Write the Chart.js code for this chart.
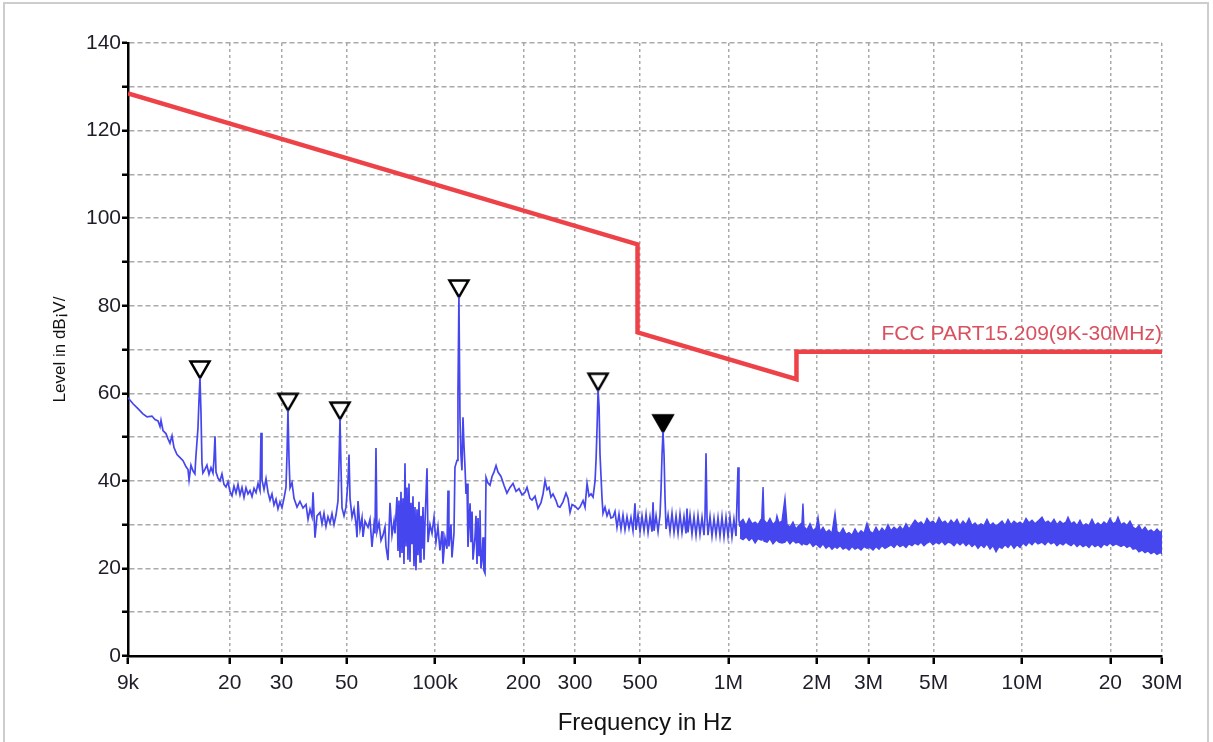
<!DOCTYPE html>
<html>
<head>
<meta charset="utf-8">
<title>FCC PART15.209 scan</title>
<script src="https://cdn.jsdelivr.net/npm/chart.js@4.4.1/dist/chart.umd.min.js"></script>
<style>
  html, body { margin: 0; padding: 0; background: #fff; }
  #wrap { position: relative; width: 1213px; height: 742px; overflow: hidden; }
  #frame { position: absolute; left: 3px; top: 2px; width: 1202px; height: 800px; border: 2px solid #cdcdcd; }
  #chart { position: absolute; left: 0; top: 0; width: 1213px; height: 742px; }
</style>
</head>
<body>
<div id="wrap">
  <div id="frame"></div>
  <canvas id="chart" width="1213" height="742"></canvas>
</div>
<script>
// frequencies in kHz, levels in dB
const xTickValues = [9, 20, 30, 50, 100, 200, 300, 500, 1000, 2000, 3000, 5000, 10000, 20000, 30000];
const xTickLabels = ['9k', '20', '30', '50', '100k', '200', '300', '500', '1M', '2M', '3M', '5M', '10M', '20', '30M'];
const yLabelStep = 20;

const limitName = 'FCC PART15.209(9K-30MHz)';
const limitFreq = [9, 490, 490, 1705, 1705, 30000];
const limitLevel = [128.5, 94.0, 73.9, 63.2, 69.5, 69.5];

const markerFreq = [15.83, 31.57, 47.49, 120.7, 359.6, 598.6];
const markerLevel = [63.5, 56.1, 54.1, 82.0, 60.7, 51.2];
const markerFilled = [false, false, false, false, false, true];

// measured trace, 9 kHz .. 1.1 MHz
const traceFreq = [
  9.00, 9.36, 9.73, 10.12, 10.45, 10.86, 11.12, 11.39, 11.57, 11.66,
  11.84, 12.12, 12.32, 12.51, 12.71, 12.91, 13.22, 13.54, 13.86, 14.19,
  14.41, 14.53, 14.75, 14.98, 15.21, 15.33, 15.58, 15.70, 15.83, 15.95,
  16.08, 16.20, 16.46, 16.72, 16.99, 17.26, 17.53, 17.67, 17.81, 17.95,
  18.24, 18.52, 18.81, 19.11, 19.41, 19.72, 20.03, 20.35, 20.67, 21.00,
  21.33, 21.67, 22.01, 22.36, 22.71, 23.07, 23.44, 23.81, 24.19, 24.57,
  24.96, 25.35, 25.55, 25.75, 26.16, 26.57, 26.99, 27.42, 27.85, 28.29,
  28.74, 29.19, 29.65, 30.12, 30.60, 31.08, 31.33, 31.57, 31.83, 32.08,
  32.59, 33.10, 33.89, 34.69, 35.52, 36.37, 36.95, 37.53, 38.12, 38.43,
  39.03, 39.65, 40.59, 41.23, 41.88, 42.54, 43.21, 43.90, 44.59, 45.30,
  46.01, 46.74, 47.11, 47.49, 47.86, 48.24, 49.00, 49.77, 50.56, 50.96,
  51.37, 52.18, 53.00, 53.84, 54.26, 54.69, 55.56, 56.43, 56.88, 57.77,
  59.15, 60.08, 61.03, 61.99, 62.48, 62.97, 63.47, 64.48, 65.50, 66.53,
  67.58, 68.11, 69.19, 70.29, 71.40, 72.53, 73.10, 74.25, 74.84, 75.42,
  76.02, 76.62, 77.22, 77.83, 78.44, 79.06, 79.68, 80.31, 80.94, 81.58,
  82.22, 82.87, 83.52, 84.18, 84.84, 85.51, 86.18, 86.86, 87.55, 88.24,
  88.95, 89.64, 90.35, 91.06, 91.78, 92.50, 93.97, 94.71, 96.21, 97.73,
  99.28, 100.8, 102.4, 104.0, 105.7, 106.5, 108.2, 109.9, 110.8, 111.6,
  113.4, 114.3, 116.1, 117.0, 118.9, 119.8, 120.7, 121.7, 122.6, 123.6,
  124.6, 125.6, 126.6, 127.6, 128.6, 129.6, 131.7, 132.7, 133.8, 134.8,
  136.9, 138.0, 139.1, 140.2, 141.3, 142.4, 143.5, 144.6, 145.8, 146.9,
  148.1, 149.3, 151.6, 154.0, 156.5, 158.9, 161.5, 164.0, 167.9, 171.9,
  175.9, 180.2, 184.5, 188.9, 193.4, 198.0, 202.7, 205.9, 210.8, 214.1,
  219.3, 224.5, 229.8, 233.5, 237.2, 241.0, 244.7, 248.5, 252.5, 258.5,
  262.5, 266.7, 273.1, 279.6, 284.1, 288.6, 293.2, 300.2, 307.3, 312.1,
  319.6, 324.6, 329.8, 335.0, 340.3, 345.7, 351.2, 354.0, 356.7, 359.6,
  362.4, 365.1, 368.0, 370.9, 373.8, 379.7, 385.7, 391.7, 397.9, 404.2,
  410.6, 417.1, 423.7, 430.4, 437.2, 444.1, 451.2, 458.3, 465.5, 472.9,
  480.4, 484.2, 491.9, 499.8, 507.6, 515.7, 523.9, 532.2, 540.5, 549.1,
  553.4, 557.8, 566.6, 575.6, 584.6, 589.3, 593.9, 598.6, 603.3, 608.1,
  612.9, 622.6, 632.3, 642.3, 652.5, 662.9, 673.3, 683.8, 694.6, 705.6,
  716.7, 722.4, 728.1, 739.6, 751.3, 763.2, 775.3, 787.5, 800.0, 812.7,
  825.5, 832.0, 838.6, 845.2, 851.8, 865.4, 879.0, 892.9, 907.0, 921.3,
  935.9, 950.7, 965.7, 981.0, 996.5, 1012, 1028, 1044, 1061, 1069,
  1078, 1086, 1095
];
const traceLevel = [
  59.0, 57.6, 56.5, 55.3, 54.6, 54.8, 54.0, 53.7, 52.4, 53.8,
  51.5, 50.8, 49.6, 48.6, 50.3, 47.6, 46.0, 45.3, 44.6, 43.2,
  42.6, 40.2, 43.6, 42.3, 41.6, 45.5, 52.0, 58.0, 63.5, 56.0,
  44.0, 41.8, 42.6, 43.6, 41.5, 43.0, 41.8, 45.0, 50.2, 42.0,
  40.6, 40.0, 41.6, 39.2, 38.6, 39.8, 37.6, 36.6, 38.8, 37.2,
  39.2, 36.8, 38.5, 36.2, 38.4, 37.0, 37.8, 36.4, 38.3, 37.3,
  39.4, 37.8, 51.0, 40.2, 38.0, 40.5, 37.4, 35.6, 37.0, 34.5,
  35.8, 33.6, 35.2, 33.9, 36.0, 38.5, 46.0, 56.1, 45.0, 38.4,
  39.6, 36.0, 34.0, 35.3, 33.8, 34.6, 31.2, 33.5, 31.8, 37.4,
  27.0, 32.0, 32.8, 30.2, 32.6, 29.6, 31.8, 30.4, 32.5, 30.0,
  32.2, 35.4, 44.0, 54.1, 43.0, 33.8, 32.0, 34.0, 40.0, 46.0,
  36.0, 31.7, 33.6, 30.2, 27.1, 35.4, 29.0, 31.6, 27.2, 30.8,
  29.4, 31.2, 24.9, 30.0, 28.0, 47.5, 28.4, 30.5, 26.4, 27.6,
  29.5, 25.0, 21.9, 35.0, 27.6, 30.8, 28.0, 36.3, 24.0, 35.5,
  22.5, 37.5, 23.5, 36.0, 21.0, 44.0, 25.0, 38.5, 22.0, 39.4,
  21.5, 35.0, 25.5, 36.5, 20.5, 34.0, 19.6, 33.5, 23.0, 35.2,
  21.5, 32.0, 24.5, 34.0, 22.0, 30.5, 42.9, 26.0, 30.0, 28.0,
  31.7, 26.0, 29.5, 24.1, 28.5, 21.1, 27.0, 24.5, 37.8, 25.0,
  30.0, 22.5, 28.0, 43.1, 44.7, 60.0, 82.0, 54.5, 46.0, 42.4,
  54.5, 48.0, 43.1, 37.0, 39.4, 24.9, 34.9, 26.0, 33.0, 22.0,
  27.1, 32.0, 21.0, 31.5, 23.0, 33.3, 20.0, 21.9, 27.1, 19.5,
  18.9, 40.8, 39.5, 39.0, 41.0, 42.0, 43.5, 42.0, 41.0, 39.0,
  37.2, 38.5, 39.4, 37.6, 38.2, 36.8, 37.4, 38.5, 36.0, 35.6,
  36.5, 33.7, 35.0, 37.0, 40.1, 38.0, 38.5, 36.3, 37.0, 35.5,
  34.2, 34.0, 35.2, 37.2, 36.0, 32.8, 34.6, 34.2, 33.5, 34.0,
  35.5, 34.0, 39.4, 36.5, 37.0, 36.3, 40.0, 45.0, 52.0, 60.7,
  57.0, 46.0, 41.0, 36.0, 32.6, 34.0, 32.0, 33.2, 31.5, 31.7,
  33.0, 29.4, 32.4, 29.0, 32.2, 28.8, 31.8, 29.2, 31.6, 28.6,
  34.9, 28.8, 32.2, 28.4, 32.0, 28.6, 32.4, 28.2, 31.8, 28.4,
  35.1, 28.6, 32.0, 28.4, 32.2, 38.0, 46.0, 51.2, 46.0, 36.0,
  29.0, 32.2, 28.4, 32.6, 28.2, 32.0, 28.0, 32.4, 28.2, 31.8,
  28.0, 33.7, 28.2, 32.2, 27.8, 31.8, 27.6, 32.0, 27.8, 31.6,
  27.6, 31.8, 46.3, 31.6, 27.6, 31.8, 27.4, 31.4, 27.6, 31.6,
  27.4, 31.8, 27.2, 31.6, 27.4, 31.7, 27.2, 31.2, 27.4, 35.0,
  43.1, 31.0, 29.5
];

// dense noise floor above 1.1 MHz: upper and lower edge of the trace
const bandFreq = [
  1095, 1121, 1148, 1176, 1204, 1233, 1261, 1291, 1301, 1312,
  1322, 1354, 1385, 1418, 1452, 1463, 1486, 1522, 1558, 1583,
  1620, 1659, 1698, 1739, 1780, 1794, 1808, 1851, 1896, 1941,
  1987, 2019, 2051, 2100, 2150, 2201, 2253, 2307, 2344, 2400,
  2457, 2515, 2575, 2636, 2699, 2763, 2829, 2896, 2965, 3037,
  3109, 3183, 3258, 3336, 3415, 3496, 3579, 3665, 3752, 3842,
  3933, 4026, 4122, 4220, 4321, 4424, 4529, 4637, 4747, 4861,
  4976, 5095, 5216, 5340, 5467, 5597, 5731, 5867, 6007, 6152,
  6298, 6447, 6601, 6758, 6919, 7083, 7252, 7424, 7601, 7784,
  7969, 8158, 8352, 8551, 8755, 8963, 9177, 9395, 9619, 9850,
  10084, 10324, 10569, 10821, 11078, 11342, 11703, 11982, 12267, 12559,
  12858, 13164, 13478, 13798, 14127, 14351, 14693, 15042, 15401, 15766,
  16141, 16526, 16919, 17322, 17734, 18156, 18588, 19031, 19484, 19947,
  20422, 20908, 21240, 21745, 22263, 22793, 23342, 23898, 24466, 25048,
  25645, 26255, 26880, 27520, 28175, 28845, 29535, 30000
];
const bandMax = [
  30.5, 31.2, 29.8, 31.4, 30.2, 30.6, 30.0, 31.2, 33.0, 38.6,
  31.0, 30.2, 31.4, 30.0, 30.8, 32.0, 30.4, 30.8, 36.0, 30.0,
  29.4, 30.6, 29.0, 29.8, 30.4, 34.8, 29.6, 28.8, 30.2, 28.6,
  29.2, 31.7, 28.4, 29.4, 28.2, 28.8, 28.0, 32.6, 28.4, 28.0,
  29.2, 27.8, 28.2, 27.6, 29.0, 27.8, 28.6, 28.0, 30.3, 28.4,
  28.0, 29.4, 28.2, 29.2, 28.4, 30.0, 28.6, 29.4, 28.8, 29.6,
  28.8, 30.2, 29.0, 30.0, 31.0, 30.2, 30.6, 29.8, 31.4, 30.4,
  30.8, 30.0, 31.6, 30.4, 30.8, 30.0, 31.0, 30.2, 31.2, 29.8,
  30.8, 30.0, 31.4, 29.8, 30.4, 29.6, 30.2, 29.8, 31.2, 29.8,
  30.4, 29.6, 30.2, 30.8, 29.8, 31.2, 30.0, 30.8, 30.2, 30.6,
  30.0, 31.4, 30.4, 31.0, 30.2, 30.8, 31.7, 30.4, 30.8, 30.2,
  31.2, 30.0, 30.8, 30.2, 30.6, 31.7, 30.2, 30.6, 29.8, 31.0,
  29.6, 30.2, 29.8, 31.2, 29.8, 30.4, 29.8, 30.6, 30.0, 31.4,
  30.2, 30.6, 31.7, 30.0, 30.4, 29.8, 30.8, 29.4, 29.0, 29.8,
  28.6, 29.4, 28.4, 28.8, 28.2, 29.0, 28.2, 28.6
];
const bandMin = [
  27.0, 26.6, 27.2, 26.4, 27.0, 25.8, 26.8, 26.5, 27.0, 27.0,
  26.2, 26.0, 26.8, 25.6, 26.4, 26.4, 26.0, 25.8, 26.0, 26.6,
  25.6, 26.4, 25.8, 26.0, 25.4, 25.8, 25.6, 25.4, 26.0, 25.0,
  25.6, 25.2, 24.8, 25.6, 24.6, 25.2, 24.4, 25.0, 24.6, 25.2,
  24.4, 24.8, 24.2, 25.0, 24.4, 24.8, 24.2, 25.0, 24.6, 24.8,
  24.2, 25.0, 24.4, 25.2, 24.6, 25.0, 25.4, 24.8, 25.6, 25.0,
  25.4, 24.8, 25.6, 25.2, 25.8, 25.4, 26.0, 25.2, 25.8, 26.2,
  25.4, 26.0, 25.6, 26.2, 25.4, 26.0, 25.8, 25.2, 26.0, 25.4,
  26.0, 25.2, 25.8, 25.0, 25.6, 24.6, 25.4, 24.8, 25.6, 24.4,
  25.2, 23.8, 25.0, 24.6, 25.4, 24.8, 25.6, 24.6, 25.4, 24.8,
  25.8, 25.2, 26.0, 25.4, 26.2, 25.6, 26.0, 25.4, 26.2, 25.6,
  26.0, 25.2, 25.8, 25.4, 26.0, 25.6, 25.2, 25.8, 25.0, 25.6,
  25.0, 25.4, 24.8, 25.6, 25.0, 25.4, 24.8, 25.6, 25.2, 25.8,
  25.2, 25.6, 25.4, 25.0, 25.4, 24.8, 25.2, 24.4, 24.6, 23.8,
  24.2, 23.6, 24.0, 23.4, 23.8, 23.2, 23.6, 23.4
];

const traceBlue = '#4646ee';
const limitRed = '#ee4249';
const gridGray = '#a9a9a9';
const fontFamily = 'Arial, "Liberation Sans", sans-serif';

function toPoints(xs, ys) {
  return xs.map((x, i) => ({ x: x, y: ys[i] }));
}

// down-pointing triangle whose tip sits at the centre of the image
function triangleMark(filled) {
  const c = document.createElement('canvas');
  c.width = 24;
  c.height = 38;
  const g = c.getContext('2d');
  g.beginPath();
  g.moveTo(2.5, 2.5);
  g.lineTo(21.5, 2.5);
  g.lineTo(12, 19);
  g.closePath();
  g.fillStyle = filled ? '#000' : '#fff';
  g.fill();
  g.lineWidth = 2.5;
  g.strokeStyle = '#000';
  g.stroke();
  return c;
}

const limitLabel = {
  id: 'limitLabel',
  afterDatasetsDraw(chart) {
    const meta = chart.getDatasetMeta(3);
    const last = meta.data[meta.data.length - 1];
    const ctx = chart.ctx;
    ctx.save();
    ctx.font = '21px ' + fontFamily;
    ctx.fillStyle = '#d9505e';
    ctx.textAlign = 'right';
    ctx.textBaseline = 'alphabetic';
    ctx.fillText(limitName, last.x, last.y - 12);
    ctx.restore();
  }
};

function drawChart() {
  const hollow = triangleMark(false);
  const solid = triangleMark(true);

  new Chart(document.getElementById('chart'), {
    type: 'line',
    data: {
      datasets: [
        {
          label: 'Level',
          data: toPoints(traceFreq, traceLevel),
          borderColor: traceBlue,
          borderWidth: 1.7,
          pointRadius: 0,
          fill: false
        },
        {
          label: 'Level max',
          data: toPoints(bandFreq, bandMax),
          borderColor: traceBlue,
          borderWidth: 1.4,
          pointRadius: 0,
          fill: false
        },
        {
          label: 'Level min',
          data: toPoints(bandFreq, bandMin),
          borderColor: traceBlue,
          backgroundColor: traceBlue,
          borderWidth: 1.4,
          pointRadius: 0,
          fill: '-1'
        },
        {
          label: limitName,
          data: toPoints(limitFreq, limitLevel),
          borderColor: limitRed,
          borderWidth: 4.5,
          borderJoinStyle: 'miter',
          pointRadius: 0,
          fill: false
        },
        {
          label: 'Markers',
          data: toPoints(markerFreq, markerLevel),
          showLine: false,
          pointStyle: markerFilled.map(f => f ? solid : hollow),
          pointRadius: 8
        }
      ]
    },
    options: {
      responsive: false,
      animation: false,
      layout: { padding: { top: 43, right: 51, bottom: 0, left: 0 } },
      plugins: {
        legend: { display: false },
        tooltip: { enabled: false }
      },
      scales: {
        x: {
          type: 'logarithmic',
          min: 9,
          max: 30000,
          afterBuildTicks: (scale) => {
            scale.ticks = xTickValues.map(v => ({ value: v }));
          },
          afterFit: (scale) => { scale.height = 86; },
          ticks: {
            autoSkip: false,
            maxRotation: 0,
            padding: 7,
            color: '#1e1e2a',
            font: { size: 21, family: fontFamily },
            callback: (v, i) => xTickLabels[i]
          },
          grid: {
            color: (c) => (c.tick && c.tick.value === 9) ? 'rgba(0,0,0,0)' : gridGray,
            lineWidth: 1.5,
            tickColor: '#000',
            tickWidth: 2.5,
            tickLength: 8,
            tickBorderDash: []
          },
          border: { color: '#000', width: 2.5, dash: [3, 3] },
          title: {
            display: true,
            text: 'Frequency in Hz',
            color: '#111',
            font: { size: 24, family: fontFamily },
            padding: { top: 0, bottom: 4 }
          }
        },
        y: {
          min: 0,
          max: 140,
          afterFit: (scale) => { scale.width = 128; },
          ticks: {
            stepSize: 10,
            padding: 1,
            color: '#1e1e2a',
            font: { size: 21, family: fontFamily },
            callback: (v) => (v % yLabelStep === 0 ? String(v) : '')
          },
          grid: {
            color: (c) => (c.tick && c.tick.value === 0) ? 'rgba(0,0,0,0)' : gridGray,
            lineWidth: 1.5,
            tickColor: '#000',
            tickWidth: 2.5,
            tickLength: 6,
            tickBorderDash: []
          },
          border: { color: '#000', width: 2.5, dash: [5, 3] },
          title: {
            display: true,
            text: 'Level in dB¡V/',
            color: '#111',
            font: { size: 17, family: fontFamily },
            padding: { top: 50, bottom: 0 }
          }
        }
      }
    },
    plugins: [limitLabel]
  });
}

window.onload = function () {
  drawChart();
};
</script>
</body>
</html>
